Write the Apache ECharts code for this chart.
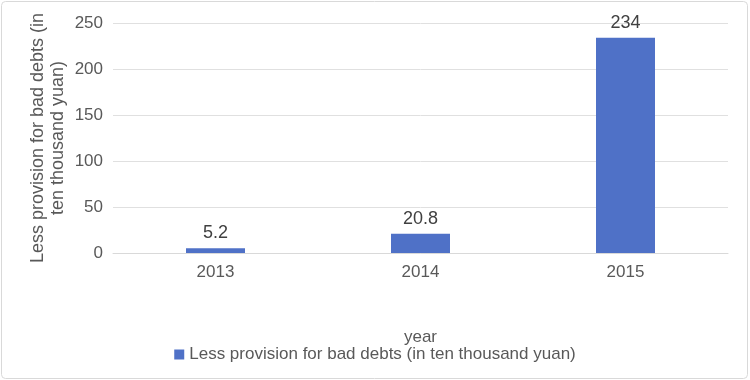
<!DOCTYPE html>
<html><head><meta charset="utf-8">
<script src="https://cdn.jsdelivr.net/npm/echarts@6/dist/echarts.min.js"></script>
<style>html,body{margin:0;padding:0;background:#fff}#c{width:750px;height:380px}</style>
</head><body><div id="c"></div>
<script>
const categories = ['2013', '2014', '2015'];
const values = [5.2, 20.8, 234];
const seriesName = 'Less provision for bad debts (in ten thousand yuan)';
const yAxisName = 'Less provision for bad debts (in\nten thousand yuan)';
const xAxisName = 'year';

const chart = echarts.init(document.getElementById('c'));
const font = 'Liberation Sans, Arial, Helvetica, sans-serif';
chart.setOption({
  animation: false,
  textStyle: { fontFamily: font },
  graphic: [{
    type: 'rect', shape: { x: 1.5, y: 1.5, width: 746, height: 377, r: 4 },
    style: { fill: 'none', stroke: '#d9d9d9', lineWidth: 1 }, z: -1
  }],
  grid: { left: 113, right: 22, top: 23, bottom: 127 },
  legend: {
    data: [seriesName], top: 341, left: 'center',
    itemWidth: 10, itemHeight: 10, itemGap: 6,
    icon: 'rect',
    textStyle: { fontSize: 17, color: '#595959', fontFamily: font }
  },
  xAxis: {
    type: 'category', data: categories,
    name: xAxisName, nameLocation: 'middle', nameGap: 76, nameMoveOverlap: false,
    nameTextStyle: { fontSize: 17, color: '#595959' },
    axisLine: { lineStyle: { color: '#d9d9d9' } },
    axisTick: { show: false },
    axisLabel: { fontSize: 17, color: '#595959', margin: 11 }
  },
  yAxis: {
    type: 'value', min: 0, max: 250, interval: 50,
    name: yAxisName, nameLocation: 'middle', nameGap: 45, nameRotate: 90, nameMoveOverlap: false,
    nameTextStyle: { fontSize: 18, color: '#595959', lineHeight: 20 },
    axisLine: { show: false }, axisTick: { show: false },
    splitLine: { lineStyle: { color: '#e0e0e0' } },
    axisLabel: { fontSize: 17, color: '#595959', margin: 10 }
  },
  series: [{
    name: seriesName, type: 'bar', data: values, barWidth: 59,
    itemStyle: { color: '#4f71c7' },
    label: { show: true, position: 'top', distance: 6, fontSize: 18, color: '#404040' }
  }]
});
</script></body></html>
